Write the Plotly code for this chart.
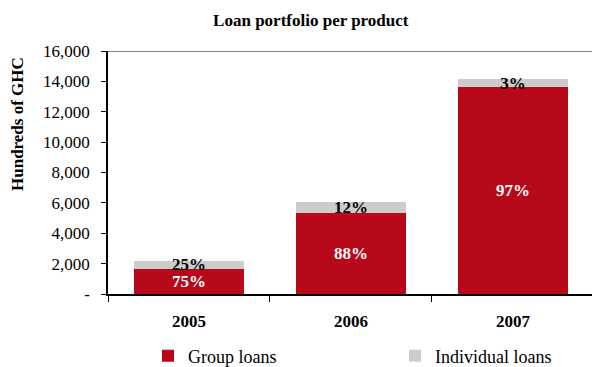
import plotly.graph_objects as go

years = ["2005", "2006", "2007"]
group_loans = [1640, 5330, 13650]
individual_loans = [550, 730, 480]
group_labels = ["75%", "88%", "97%"]
individual_labels = ["25%", "12%", "3%"]
y_tickvals = [0, 2000, 4000, 6000, 8000, 10000, 12000, 14000, 16000]
y_ticktext = ["-", "2,000", "4,000", "6,000", "8,000", "10,000", "12,000", "14,000", "16,000"]
y_title = "Hundreds of GHC"

SERIF = "Liberation Serif"
RED = "#B8091A"
GREY = "#CCCCCC"

fig = go.Figure()
fig.add_trace(go.Bar(
    x=years, y=group_loans, name="Group loans",
    marker=dict(color=RED, line=dict(width=0)),
    width=0.68, legend="legend",
    text=group_labels, textposition="inside", insidetextanchor="middle",
    textfont=dict(family=SERIF, size=17, color="white", weight="bold"),
    constraintext="none",
))
fig.add_trace(go.Bar(
    x=years, y=individual_loans, name="Individual loans",
    marker=dict(color=GREY, line=dict(width=0)),
    width=0.68, legend="legend2",
    text=individual_labels, textposition="inside", insidetextanchor="middle",
    textfont=dict(family=SERIF, size=17, color="black", weight="bold"),
    constraintext="none",
))

legend_common = dict(orientation="h", yanchor="middle", y=-62 / 243,
                     xanchor="left", font=dict(family=SERIF, size=18, color="black"),
                     bgcolor="rgba(0,0,0,0)")

fig.update_layout(
    width=592, height=367,
    barmode="stack",
    plot_bgcolor="white", paper_bgcolor="white",
    margin=dict(l=108, r=0, t=51, b=73, autoexpand=False),
    font=dict(family=SERIF, size=17, color="black"),
    uniformtext=dict(minsize=17, mode="show"),
    title=dict(text="<b>Loan portfolio per product</b>", x=0.525, xanchor="center",
               y=1 - 20 / 367, yanchor="middle",
               font=dict(family=SERIF, size=17, color="black")),
    showlegend=True,
    legend=dict(legend_common, x=(148 - 108) / 484),
    legend2=dict(legend_common, x=(395 - 108) / 484),
    xaxis=dict(
        range=[-0.5, 2.488], showline=True, linecolor="black", linewidth=1.5,
        ticks="outside", ticklen=6, tickcolor="black", tickson="boundaries",
        tickfont=dict(family=SERIF, size=17, color="black", weight="bold"),
        ticklabelstandoff=11,
        showgrid=False, zeroline=False, fixedrange=True,
    ),
    yaxis=dict(
        range=[0, 16000], showline=True, linecolor="black", linewidth=1.5,
        ticks="outside", ticklen=5, tickcolor="black",
        tickvals=y_tickvals, ticktext=y_ticktext,
        tickfont=dict(family=SERIF, size=17, color="black"),
        ticklabelstandoff=8,
        showgrid=False, zeroline=False,
    ),
)
fig.add_annotation(text="<b>" + y_title + "</b>", textangle=-90, showarrow=False,
                   xref="paper", yref="paper", x=(18 - 108) / 484, y=(294 - 124) / 243,
                   xanchor="center", yanchor="middle",
                   font=dict(family=SERIF, size=17, color="black"))
fig.add_shape(type="line", xref="paper", yref="y", x0=0, x1=1, y0=16000, y1=16000,
              line=dict(color="#555555", width=1.5))

fig.write_html("out.html")
